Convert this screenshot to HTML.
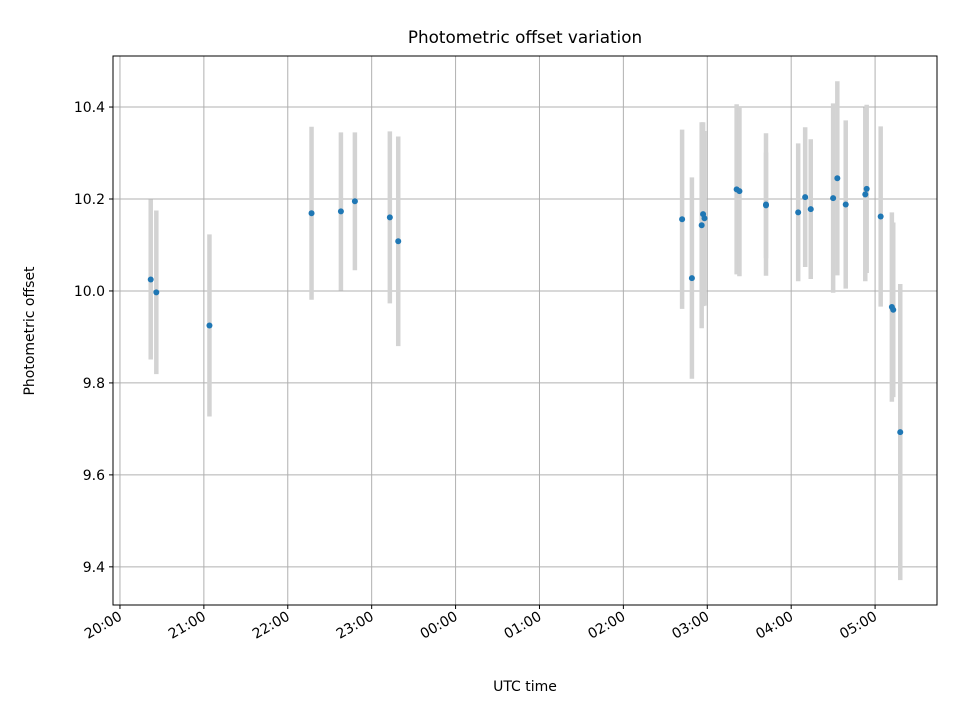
<!DOCTYPE html>
<html><head><meta charset="utf-8"><style>
body{margin:0;background:#fff;}
text{font-family:"DejaVu Sans","Liberation Sans",sans-serif;}
</style></head><body>
<svg id="chart" width="960" height="720" xmlns="http://www.w3.org/2000/svg">
<rect width="960" height="720" fill="#fff"/>
<text x="525" y="43" font-size="16.8" text-anchor="middle" fill="#000">Photometric offset variation</text>
<g id="grid"></g><g id="bars"></g><g id="pts"></g><g id="axes"></g>
<text x="525" y="691" font-size="14" text-anchor="middle">UTC time</text>
<text transform="translate(34,331) rotate(-90)" font-size="14" text-anchor="middle">Photometric offset</text>
</svg>
<script>
const times=["20:22","20:26","21:04","22:17","22:38","22:48","23:13","23:19","02:42","02:49","02:56","02:57","02:58","03:21","03:23","03:42","03:42","04:05","04:10","04:14","04:30","04:33","04:39","04:53","04:54","05:04","05:12","05:13","05:18"];
const values=[10.025,9.997,9.925,10.169,10.173,10.195,10.160,10.108,10.156,10.028,10.143,10.167,10.158,10.221,10.217,10.188,10.186,10.171,10.204,10.178,10.202,10.245,10.188,10.210,10.222,10.162,9.965,9.959,9.693];
const errors=[0.174,0.178,0.198,0.188,0.172,0.150,0.187,0.228,0.195,0.219,0.224,0.20,0.19,0.185,0.185,0.155,0.115,0.15,0.152,0.152,0.206,0.211,0.183,0.189,0.183,0.196,0.206,0.19,0.322];
const yTicks=[9.4,9.6,9.8,10.0,10.2,10.4];
const xTickLabels=["20:00","21:00","22:00","23:00","00:00","01:00","02:00","03:00","04:00","05:00"];
const L=113,R=937,T=56,B=605;
const x0=-0.083,x1=9.738,y0=9.317,y1=10.511;
const NS="http://www.w3.org/2000/svg";
function hrs(t){let [h,m]=t.split(":").map(Number);let v=h+m/60-20;if(v<0)v+=24;return v;}
function X(h){return L+(h-x0)/(x1-x0)*(R-L);}
function Y(v){return B-(v-y0)/(y1-y0)*(B-T);}
function mk(tag,at,parent){const e=document.createElementNS(NS,tag);for(const k in at)e.setAttribute(k,at[k]);document.getElementById(parent).appendChild(e);return e;}
yTicks.forEach((v,i)=>{
 const g=mk("line",{x1:L,x2:R,y1:Y(v),y2:Y(v),stroke:"#b0b0b0","stroke-width":1},"grid");
 
 
 mk("line",{x1:L-4,x2:L,y1:Y(v),y2:Y(v),stroke:"#000"},"axes");
 const t=mk("text",{x:L-8,y:Y(v)+5,"font-size":14,"text-anchor":"end"},"axes");
 t.textContent=v.toFixed(1);
 
 
});
xTickLabels.forEach((s,i)=>{
 const xp=X(i);
 const g=mk("line",{x1:xp,x2:xp,y1:T,y2:B,stroke:"#b0b0b0","stroke-width":1},"grid");
 
 
 mk("line",{x1:xp,x2:xp,y1:B,y2:B+4,stroke:"#000"},"axes");
 const t=mk("text",{transform:`translate(${xp+3},${B+14}) rotate(-30)`,"font-size":14,"text-anchor":"end"},"axes");
 t.textContent=s;
 
 
});
const fr=mk("rect",{x:L,y:T,width:R-L,height:B-T,fill:"none",stroke:"#000","stroke-width":1},"axes");


times.forEach((t,i)=>{
 const xp=X(hrs(t));
 const b=mk("line",{x1:xp,x2:xp,y1:Y(values[i]+errors[i]),y2:Y(values[i]-errors[i]),stroke:"#d3d3d3","stroke-width":4.5},"bars");
 
 
 const c=mk("circle",{cx:xp,cy:Y(values[i]),r:3,fill:"#1f77b4"},"pts");
 
 
});
</script>
</body></html>
